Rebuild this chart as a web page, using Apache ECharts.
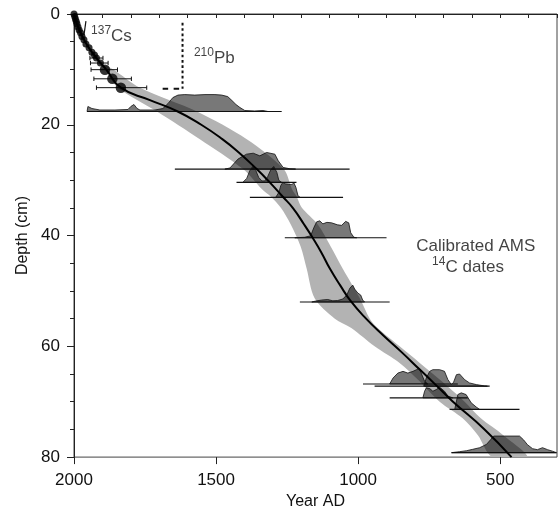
<!DOCTYPE html>
<html><head><meta charset="utf-8">
<script src="https://cdn.jsdelivr.net/npm/echarts@6/dist/echarts.min.js"></script>
<style>html,body{margin:0;padding:0;background:#fff}#c{width:559px;height:515px}</style>
</head><body><div id="c"></div>
<script>
// ---------- axis ticks ----------
const xTickLabels = [2000, 1500, 1000, 500];
const yTickLabels = [0, 20, 40, 60, 80];

// ---------- age-depth model (Year AD vs depth cm) ----------
const curveDepth = [0, 2, 5, 8, 10, 13.3, 15.5, 17.6, 20, 22.6, 25, 28, 30.4, 33, 35, 38, 40.4, 43, 46, 49, 51.9, 55, 58, 61, 64.2, 67, 69.9, 75, 80];
const curveYear  = [2000, 1988, 1961, 1920, 1887, 1835, 1735, 1635, 1552, 1478, 1420, 1357, 1311, 1265, 1230, 1190, 1160, 1130, 1099, 1063, 1025, 972, 912, 848, 783, 726, 668, 555, 460];

// ---------- confidence envelope ----------
const bandDepth = [9.2, 10, 13.3, 17.6, 22.6, 28, 31.6, 33, 35, 38, 42, 46, 51.3, 55, 56.7, 60, 63, 66, 70, 73, 76, 80];
const bandYoung = [1898, 1890, 1845, 1708, 1557, 1405, 1339, 1307, 1272, 1237, 1202, 1181, 1153, 1082, 1024, 942, 854, 790, 713, 632, 579, 527];
const bandOld   = [1898, 1862, 1768, 1567, 1392, 1262, 1233, 1216, 1198, 1142, 1096, 1054, 994, 959, 931, 854, 783, 713, 625, 568, 490, 404];

// ---------- 210Pb dated levels ----------
const pbYear  = [2000, 1997.5, 1995, 1992, 1989.5, 1986, 1982, 1977, 1972, 1965, 1958, 1947, 1937, 1928, 1921, 1907, 1891, 1865, 1835];
const pbDepth = [0, 0.45, 0.9, 1.35, 1.8, 2.33, 2.87, 3.4, 4.04, 4.67, 5.4, 6.1, 6.9, 7.4, 7.95, 8.85, 10.05, 11.7, 13.3];
const pbErrDepth = [7.95, 8.85, 10.05, 11.7, 13.3];
const pbErrYoung = [1944, 1942, 1940, 1930, 1921];
const pbErrOld   = [1898, 1880, 1847, 1798, 1744];

// ---------- calibrated AMS 14C date distributions ----------
const calibBase  = [17.6, 28.0, 30.4, 33.1, 40.4, 52.0, 66.8, 67.2, 69.3, 71.4, 79.2];
const calibStart = [1954, 1645, 1428, 1381, 1258, 1205, 983, 942, 889, 678, 671];
const calibEnd   = [1269, 1030, 1217, 1053, 900, 889, 649, 537, 614, 432, 302];
const calib1 = [[1954,0],[1951,0.9],[1937,0.54],[1909,0.27],[1856,0.27],[1810,0.36],[1800,0.9],[1789,1.26],[1778,0.54],[1768,0.27],[1715,0.27],[1687,0.54],[1669,1.44],[1652,2.51],[1634,2.96],[1610,3.05],[1575,2.96],[1539,3.05],[1504,3.05],[1480,2.96],[1459,2.69],[1444,1.97],[1430,1.26],[1416,0.72],[1399,0.18],[1364,0.09],[1335,0.18],[1318,0]];
const calib2 = [[1469,0],[1451,0.2],[1423,1.8],[1393,2.69],[1369,2.87],[1346,2.39],[1322,3.0],[1293,2.69],[1281,1.49],[1264,0.3],[1240,0.05],[1220,0]];
const calib3 = [[1406,0],[1392,0.72],[1381,2.15],[1371,2.87],[1360,2.15],[1350,0.9],[1339,0.27],[1328,0.27],[1318,1.08],[1307,2.33],[1297,2.87],[1286,1.8],[1279,0.36],[1269,0]];
const calib4 = [[1290,0],[1279,0.9],[1272,2.15],[1265,2.69],[1255,2.42],[1244,2.33],[1233,2.33],[1226,2.6],[1219,1.8],[1212,0.36],[1205,0]];
const calib5 = [[1223,0],[1188,0.09],[1167,0.36],[1156,1.8],[1146,2.87],[1135,3.05],[1124,2.51],[1110,2.78],[1093,2.69],[1072,2.33],[1058,2.24],[1044,2.96],[1033,2.69],[1026,0.9],[1015,0.09],[1005,0]];
const calib6 = [[1163,0],[1149,0.18],[1128,0.36],[1107,0.45],[1089,0.22],[1072,0.27],[1054,0.54],[1040,1.26],[1029,2.51],[1019,3.05],[1012,2.33],[1001,1.62],[991,1.26],[984,0.36],[977,0]];
const calib7 = [[889,0],[877,1.08],[860,1.97],[842,2.28],[825,1.97],[807,2.28],[795,2.57],[786,2.87],[778,1.97],[766,0.48],[755,0]];
const calib8 = [[769,0],[760,1.49],[748,2.69],[737,2.98],[713,2.98],[696,2.69],[684,1.18],[672,0.3],[664,0.72],[654,2.08],[643,2.2],[625,1.18],[608,0.59],[584,0.29],[555,0.05],[545,0]];
const calib9 = [[772,0],[766,1.2],[760,1.8],[748,1.67],[737,1.2],[725,1.49],[713,1.92],[696,1.2],[684,0.31],[667,0]];
const calib10 = [[660,0],[649,2.69],[637,3.0],[620,2.69],[602,1.2],[584,0.43],[572,0]];
const calib11 = [[671,0],[643,0.18],[618,0.36],[597,0.6],[572,0.9],[548,1.5],[534,2.33],[523,3.0],[484,3.0],[432,3.0],[418,2.33],[404,1.44],[386,0.72],[369,0.54],[351,0.9],[333,0.54],[316,0.27],[302,0]];
const calibProfiles = [calib1, calib2, calib3, calib4, calib5, calib6, calib7, calib8, calib9, calib10, calib11];

// ---------- dating markers ----------
const csMarkerYear = [1965, 1958, 1958];
const csMarkerDepth = [3.85, 3.85, 1.3];
const pbLimitYear = 1618;
const pbLimitDepth = [1.6, 13.5];
const pbLimitFoot = [1688, 1618];

// ---------- build chart ----------
const FONT = "'Liberation Sans', Arial, Helvetica, sans-serif";
const INK = '#111';
const chart = echarts.init(document.getElementById('c'), null, {renderer: 'canvas'});

const option = {
  animation: false,
  textStyle: {fontFamily: FONT, color: INK},
  grid: {left: 74, right: 2, top: 14, bottom: 56, show: true, borderColor: '#444', borderWidth: 1, backgroundColor: 'transparent'},
  xAxis: [
    {type: 'value', min: 300, max: 2000, interval: 100, inverse: true, position: 'bottom',
     axisLine: {show: true, lineStyle: {color: '#222', width: 1}},
     axisTick: {show: true, length: 4, lineStyle: {color: '#222'}},
     axisLabel: {show: false}, splitLine: {show: false}},
    {type: 'value', min: 300, max: 2000, inverse: true, position: 'bottom', offset: 0,
     axisLine: {show: false},
     axisTick: {show: true, length: 7, customValues: xTickLabels, lineStyle: {color: '#222'}},
     axisLabel: {show: true, customValues: xTickLabels, formatter: v => String(v), fontSize: 17, margin: 15, color: INK, fontFamily: FONT},
     splitLine: {show: false},
     name: 'Year AD', nameLocation: 'middle', nameGap: 36,
     nameTextStyle: {fontSize: 16, color: INK, fontFamily: FONT}}
  ],
  yAxis: {
    type: 'value', min: 0, max: 80, interval: 20, inverse: true,
    axisLine: {show: true, lineStyle: {color: '#222', width: 1}},
    axisTick: {show: true, length: 7, lineStyle: {color: '#222'}},
    minorTick: {show: true, splitNumber: 4, length: 4, lineStyle: {color: '#222'}},
    axisLabel: {fontSize: 17, margin: 14, color: INK, fontFamily: FONT},
    splitLine: {show: false},
    name: 'Depth (cm)', nameLocation: 'middle', nameGap: 42,
    nameTextStyle: {fontSize: 16, color: INK, fontFamily: FONT}
  },
  series: [
    { // envelope
      type: 'custom', data: [[1000, 40]], z: 1, silent: true,
      renderItem: function (params, api) {
        const pts = [];
        for (let i = 0; i < bandDepth.length; i++) pts.push(api.coord([bandYoung[i], bandDepth[i]]));
        for (let i = bandDepth.length - 1; i >= 1; i--) pts.push(api.coord([bandOld[i], bandDepth[i]]));
        const cs = params.coordSys;
        return {type: 'group',
          clipPath: {type: 'rect', shape: {x: cs.x, y: cs.y, width: cs.width, height: cs.height}},
          children: [{type: 'polygon', shape: {points: pts, smooth: 0.3}, style: {fill: '#b3b3b3'}}]};
      }
    },
    { // calibrated date distributions
      type: 'custom', z: 2, silent: true,
      data: calibBase.map((b, i) => [calibStart[i], b, calibEnd[i]]),
      encode: {x: [0, 2], y: 1},
      renderItem: function (params, api) {
        const i = params.dataIndex;
        const base = calibBase[i];
        const pts = calibProfiles[i].map(p => api.coord([p[0], base - p[1]]));
        const a = api.coord([calibStart[i], base]);
        const b = api.coord([calibEnd[i], base]);
        return {type: 'group', children: [
          {type: 'polygon', shape: {points: pts}, style: {fill: 'rgba(0,0,0,0.53)', stroke: '#111', lineWidth: 0.8}},
          {type: 'line', shape: {x1: a[0], y1: a[1], x2: b[0], y2: b[1]}, style: {stroke: '#111', lineWidth: 1.2}}
        ]};
      }
    },
    { // age-depth curve
      type: 'line', z: 3, silent: true, smooth: 0.5, symbol: 'none',
      data: curveYear.map((y, i) => [y, curveDepth[i]]),
      lineStyle: {color: '#000', width: 2}
    },
    { // 210Pb error bars
      type: 'custom', z: 4, silent: true,
      data: pbErrDepth.map((d, i) => [pbErrYoung[i], d, pbErrOld[i]]),
      encode: {x: [0, 2], y: 1},
      renderItem: function (params, api) {
        const a = api.coord([api.value(0), api.value(1)]);
        const b = api.coord([api.value(2), api.value(1)]);
        const st = {stroke: '#111', lineWidth: 1};
        return {type: 'group', children: [
          {type: 'line', shape: {x1: a[0], y1: a[1], x2: b[0], y2: b[1]}, style: st},
          {type: 'line', shape: {x1: a[0], y1: a[1] - 2.2, x2: a[0], y2: a[1] + 2.2}, style: st},
          {type: 'line', shape: {x1: b[0], y1: b[1] - 2.2, x2: b[0], y2: b[1] + 2.2}, style: st}
        ]};
      }
    },
    { // 210Pb points
      type: 'scatter', z: 5, silent: true, clip: false,
      data: pbYear.map((y, i) => [y, pbDepth[i]]),
      symbol: 'circle',
      symbolSize: function (v) { return v[1] > 9.5 ? 10.5 : 7; },
      itemStyle: {color: '#000'}
    },
    { // 137Cs marker
      type: 'line', z: 5, silent: true, symbol: 'none',
      data: csMarkerYear.map((y, i) => [y, csMarkerDepth[i]]),
      lineStyle: {color: '#111', width: 1.2}
    },
    { // 210Pb limit (vertical dotted)
      type: 'line', z: 5, silent: true, symbol: 'none',
      data: pbLimitDepth.map(d => [pbLimitYear, d]),
      lineStyle: {color: '#111', width: 2, type: [2.7, 2.6]}
    },
    { // 210Pb limit (horizontal dashed)
      type: 'line', z: 5, silent: true, symbol: 'none',
      data: pbLimitFoot.map(y => [y, pbLimitDepth[1]]),
      lineStyle: {color: '#111', width: 2, type: [5.5, 5.5]}
    },
    { // annotations
      type: 'scatter', z: 6, silent: true, symbolSize: 0, clip: false,
      label: {show: true, position: 'right', distance: 0, color: INK, fontFamily: FONT,
        rich: {
          s: {fontSize: 12, lineHeight: 12, verticalAlign: 'top', fontFamily: FONT, color: INK},
          n: {fontSize: 17, lineHeight: 20, verticalAlign: 'bottom', fontFamily: FONT, color: INK}
        }},
      data: [
        {value: [1940, 3.73], label: {formatter: '{s|137}{n|Cs}'}},
        {value: [1578, 7.74], label: {formatter: '{s|210}{n|Pb}'}},
        {value: [586, 41.7], label: {position: 'inside', formatter: '{n|Calibrated AMS}'}},
        {value: [613, 45.5], label: {position: 'inside', formatter: '{s|14}{n|C dates}'}}
      ]
    }
  ]
};
chart.setOption(option);
</script>
</body></html>
